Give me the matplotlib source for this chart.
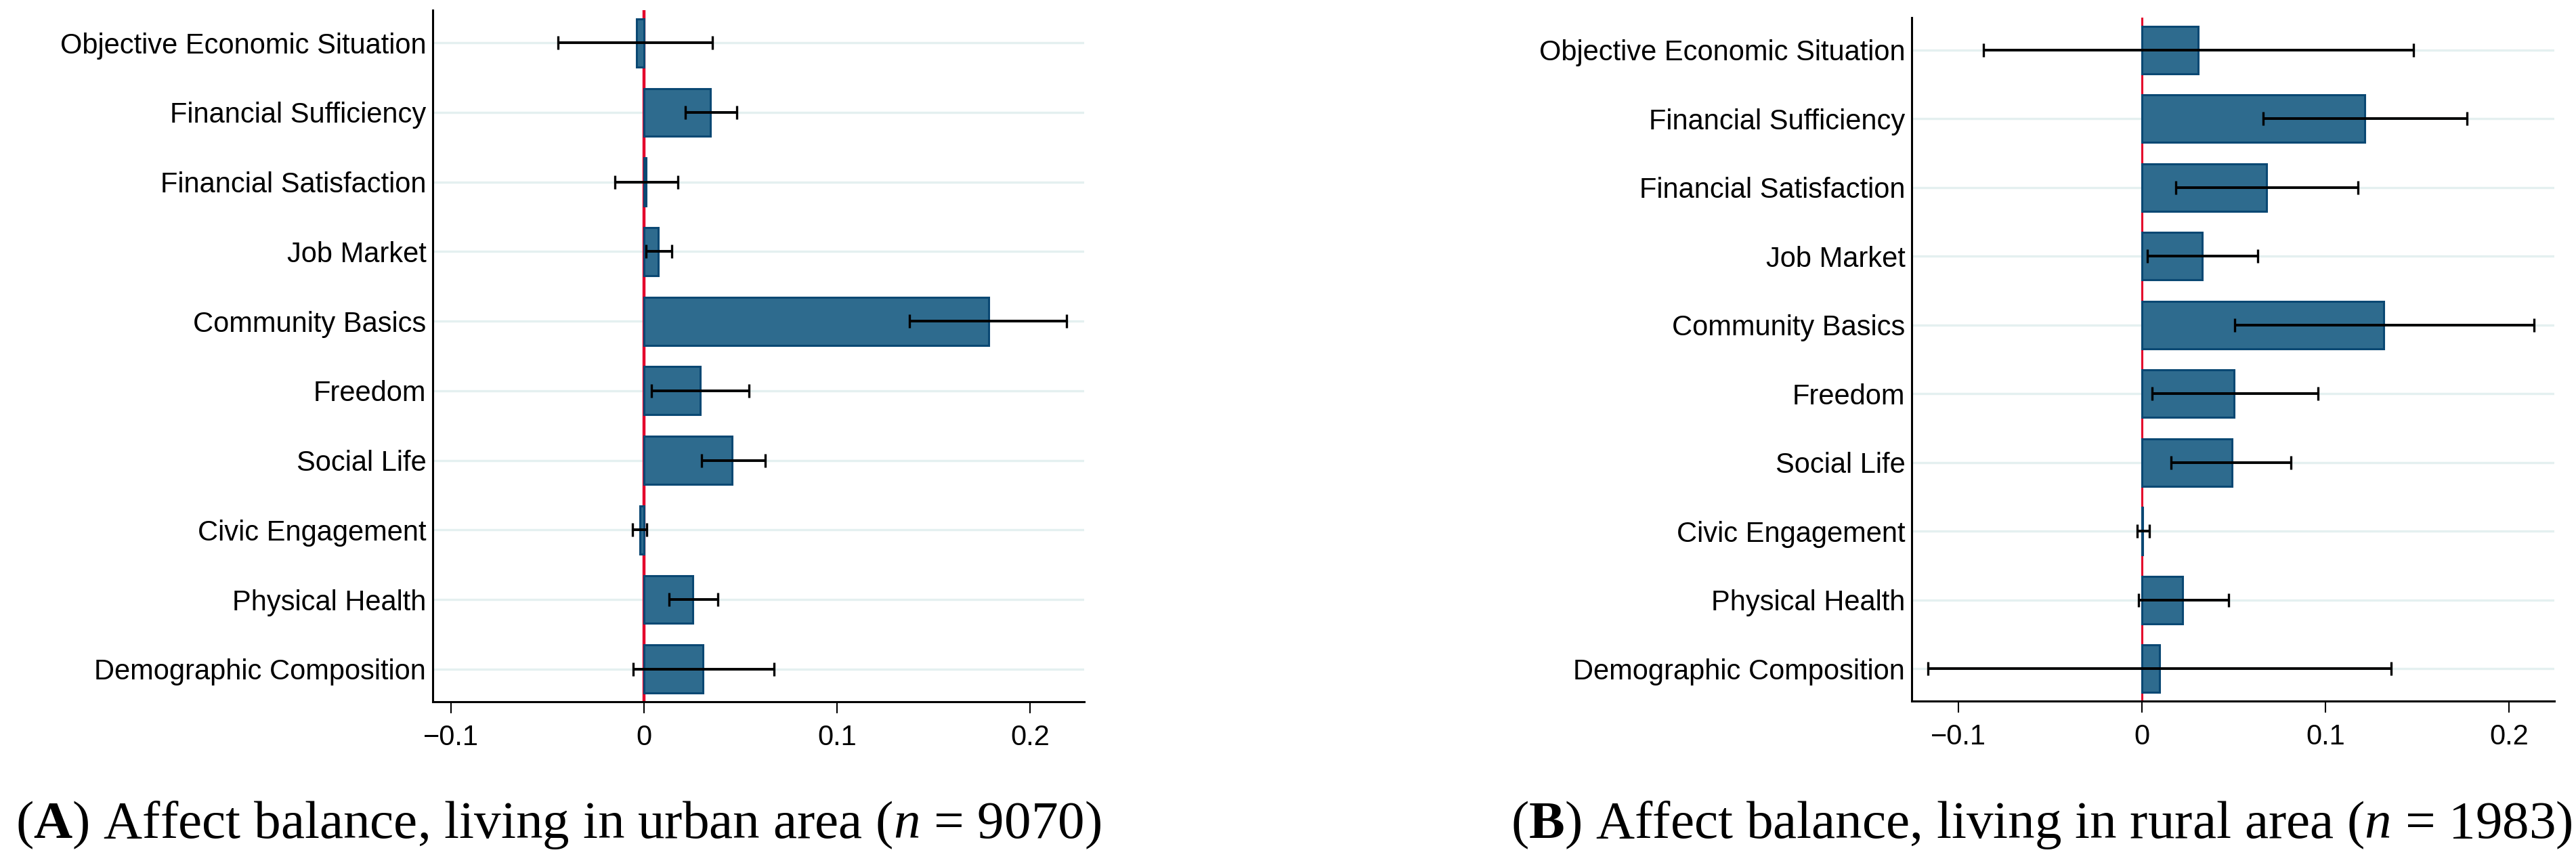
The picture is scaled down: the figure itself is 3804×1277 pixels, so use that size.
import numpy as np
import matplotlib
matplotlib.use('Agg')
import matplotlib.pyplot as plt

plt.rcParams['font.family'] = ['Liberation Sans', 'DejaVu Sans']
plt.rcParams['mathtext.fontset'] = 'custom'
plt.rcParams['mathtext.rm'] = 'Liberation Serif'
plt.rcParams['mathtext.it'] = 'Liberation Serif:italic'
plt.rcParams['mathtext.bf'] = 'Liberation Serif:bold'

categories = ['Objective Economic Situation', 'Financial Sufficiency', 'Financial Satisfaction',
              'Job Market', 'Community Basics', 'Freedom', 'Social Life',
              'Civic Engagement', 'Physical Health', 'Demographic Composition']

# panel A: urban
urban_coef = [-0.004, 0.0345, 0.001, 0.0074, 0.1785, 0.029, 0.0456, -0.0022, 0.0252, 0.0304]
urban_lo = [-0.0445, 0.0215, -0.0152, 0.0011, 0.1377, 0.0037, 0.0297, -0.006, 0.013, -0.0056]
urban_hi = [0.0356, 0.0482, 0.0174, 0.0145, 0.2189, 0.0545, 0.0627, 0.0015, 0.0382, 0.0672]

# panel B: rural
rural_coef = [0.0305, 0.1212, 0.0677, 0.0329, 0.1318, 0.05, 0.0489, 0.0004, 0.0223, 0.0094]
rural_lo = [-0.0864, 0.0661, 0.0184, 0.0031, 0.0504, 0.0055, 0.016, -0.0027, -0.002, -0.1165]
rural_hi = [0.1478, 0.1772, 0.1177, 0.063, 0.2135, 0.0958, 0.0813, 0.0039, 0.0473, 0.1357]

xticks = [-0.1, 0, 0.1, 0.2]
xticklabels = ['\u22120.1', '0', '0.1', '0.2']

fill_col = '#2e6b8e'
edge_col = '#0a4873'
grid_col = '#e4f0f0'
red_col = '#e4002b'

W, H = 3804, 1277
fig = plt.figure(figsize=(W / 100, H / 100), dpi=100)


def panel(rect, coef, lo, hi, xlim, red_lw):
    ax = fig.add_axes(rect)
    y = np.arange(len(categories))
    coef = np.array(coef)
    err = [coef - np.array(lo), np.array(hi) - coef]
    for yy in y:
        ax.axhline(yy, color=grid_col, lw=2.4, zorder=0)
    ax.axvline(0, color=red_col, lw=red_lw, zorder=1)
    ax.barh(y, coef, height=0.69, color=fill_col, edgecolor=edge_col, linewidth=2.2, zorder=2)
    ax.errorbar(coef, y, xerr=err, fmt='none', ecolor='black', elinewidth=2.8,
                capsize=7.5, capthick=2.4, zorder=3)
    ax.set_yticks(y)
    ax.set_yticklabels(categories, fontsize=30)
    ax.set_ylim(len(categories) - 0.53, -0.47)
    ax.set_xlim(xlim)
    ax.set_xticks(xticks)
    ax.set_xticklabels(xticklabels, fontsize=30)
    ax.tick_params(axis='y', length=0, pad=7)
    ax.tick_params(axis='x', length=12, width=1.5, pad=12)
    ax.spines['top'].set_visible(False)
    ax.spines['right'].set_visible(False)
    ax.spines['left'].set_linewidth(2.2)
    ax.spines['bottom'].set_linewidth(2.2)
    return ax


panel([639 / W, 1 - 1036 / H, (1601 - 639) / W, (1036 - 15) / H],
      urban_coef, urban_lo, urban_hi, (-0.1095, 0.2281), 3.2)
panel([2823 / W, 1 - 1035 / H, (3772 - 2823) / W, (1035 - 26) / H],
      rural_coef, rural_lo, rural_hi, (-0.1254, 0.2246), 2.2)

fig.text(825 / W, 1 - 1217 / H,
         r'($\mathbf{A}$) Affect balance, living in urban area ($n$ = 9070)',
         family='Liberation Serif', fontsize=57, ha='center', va='center')
fig.text(3015 / W, 1 - 1217 / H,
         r'($\mathbf{B}$) Affect balance, living in rural area ($n$ = 1983)',
         family='Liberation Serif', fontsize=57, ha='center', va='center')

plt.savefig('out.png', dpi=100)
